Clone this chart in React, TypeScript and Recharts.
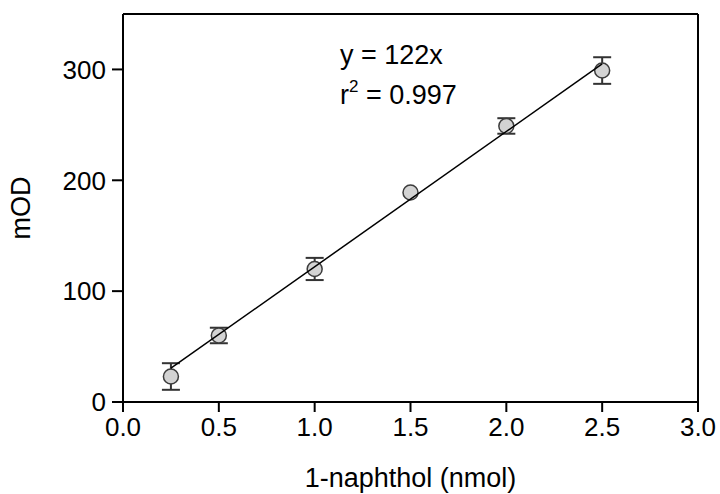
import { ScatterChart, Scatter, XAxis, YAxis, ErrorBar, ReferenceLine, Customized } from 'recharts';

// calibration points: 1-naphthol (nmol) vs mOD, with error bars
const amounts = [0.25, 0.5, 1.0, 1.5, 2.0, 2.5];
const mod = [23, 60, 120, 189, 249, 299];
// the 1.5 nmol bar is hidden under its marker in the original
const errs: (number | null)[] = [12, 7, 10, null, 7, 12];

// fitted line y = 122x, end points
const fitX = [0.25, 2.5];
const fitY = [30.5, 305];

const xTicks = [0, 0.5, 1, 1.5, 2, 2.5, 3];
const yTicks = [0, 100, 200, 300];

const eqText = 'y = 122x';
const r2Value = ' = 0.997';

const points = amounts.map((x, i) => ({ x, y: mod[i], err: errs[i] }));
const fit = fitX.map((x, i) => ({ x, y: fitY[i] }));

const FONT = 'Liberation Sans, Arial, sans-serif';
const tickStyle = { fontSize: 26, fill: '#000', fontFamily: FONT };
const labelStyle = { fontSize: 27, fill: '#000', fontFamily: FONT };

const Marker = (p: any) => (
  <circle cx={p.cx} cy={p.cy} r={7.5} fill="#d3d3d3" stroke="#3c3c3c" strokeWidth={1.5} />
);

const Annotation = () => (
  <g fontFamily={FONT} fontSize={27} fill="#000">
    <text x={340} y={64}>{eqText}</text>
    <text x={340} y={104}>
      r<tspan dy={-12} fontSize={17}>2</tspan>
      <tspan dy={12}>{r2Value}</tspan>
    </text>
  </g>
);

export default function App() {
  return (
    <div style={{ position: 'absolute', left: 0, top: 0, background: '#fff' }}>
      <ScatterChart width={720} height={494} margin={{ top: 14, right: 22, left: 0, bottom: 0 }}>
        <XAxis
          type="number"
          dataKey="x"
          domain={[0, 3]}
          ticks={xTicks}
          tickFormatter={(v: number) => v.toFixed(1)}
          height={92}
          stroke="#000"
          strokeWidth={2}
          tickSize={10}
          tickMargin={6}
          tick={tickStyle}
          label={{ value: '1-naphthol (nmol)', position: 'insideBottom', offset: 7, style: labelStyle }}
        />
        <YAxis
          type="number"
          dataKey="y"
          domain={[0, 350]}
          ticks={yTicks}
          width={123}
          stroke="#000"
          strokeWidth={2}
          tickSize={11}
          tickMargin={6}
          tick={tickStyle}
          label={{ value: 'mOD', angle: -90, position: 'insideLeft', offset: 20, style: { ...labelStyle, textAnchor: 'middle' } }}
        />
        <ReferenceLine y={350} stroke="#000" strokeWidth={2} />
        <ReferenceLine x={3} stroke="#000" strokeWidth={2} />
        <Scatter data={points} shape={Marker} isAnimationActive={false}>
          <ErrorBar dataKey="err" direction="y" width={9} stroke="#333" strokeWidth={2} />
        </Scatter>
        <Scatter
          data={fit}
          line={{ stroke: '#000', strokeWidth: 1.5 }}
          shape={() => <g />}
          isAnimationActive={false}
        />
        <Customized component={Annotation} />
      </ScatterChart>
    </div>
  );
}
